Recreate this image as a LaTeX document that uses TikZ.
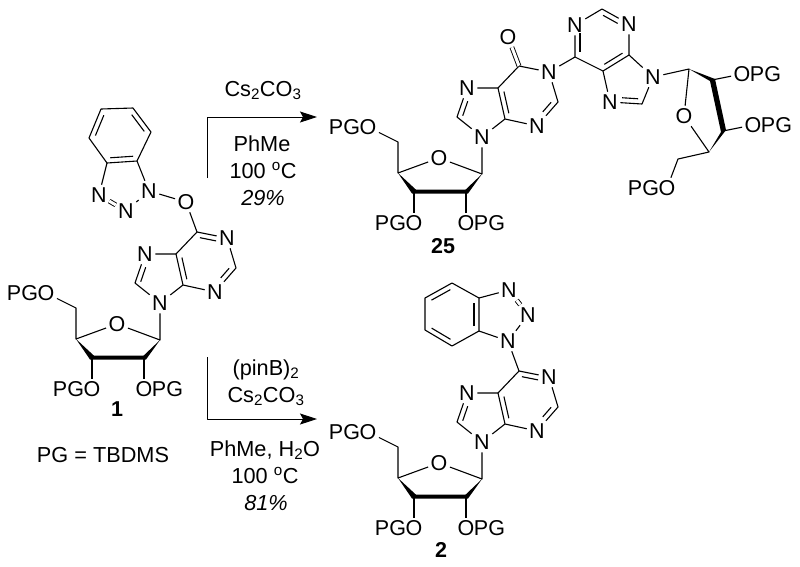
\documentclass[tikz,border=0pt]{standalone}
\usepackage{fontspec}
\setmainfont{Liberation Sans}
\usetikzlibrary{positioning,calc,arrows.meta}

\tikzset{
  atom/.style={font=\fontsize{21.5}{25}\selectfont,inner sep=2pt,text height=15.4pt,text depth=0pt},
  tail/.style={font=\fontsize{21.5}{25}\selectfont,inner sep=0pt,text height=15.4pt,text depth=0pt},
  reagent/.style={font=\fontsize{21.7}{25}\selectfont,inner sep=0pt,anchor=base},
  dblbond/.style={double,double distance=3pt,line width=.9pt},
  rxnarrow/.style={line width=.9pt,-{Stealth[length=17pt,width=11pt,inset=3pt]}}
}

\newcommand{\inbond}[4]{\draw ($(#1)!#3!(#2)!5pt!90:(#2)$) -- ($(#1)!#4!(#2)!5pt!90:(#2)$);}

\newcommand{\nucleoside}[2]{
  \begin{scope}[shift={(#2)}]
    \coordinate (#1c6) at (197,232);
    \node[atom] (#1n1) at (227,238) {N};
    \coordinate (#1c2) at (236,268);
    \node[atom] (#1n3) at (215,292) {N};
    \coordinate (#1c4) at (183,285);
    \coordinate (#1c5) at (176,254);
    \node[atom] (#1n7) at (145,254) {N};
    \coordinate (#1c8) at (135,283);
    \node[atom] (#1n9) at (160,303) {N};
    \coordinate (#1ca) at (160,340);
    \node[atom] (#1or) at (117,324) {O};
    \coordinate (#1cd) at (76,339);
    \coordinate (#1cc) at (92,357);
    \coordinate (#1cb) at (144,357);
    \coordinate (#1ce) at (76,308);
    \node[atom] (#1oe) at (46,293) {O};
    \node[tail,left=-3.5pt of #1oe] (#1pe) {PG};
    \node[atom] (#1oc) at (92,389) {O};
    \node[tail,left=-3.5pt of #1oc] (#1pc) {PG};
    \node[atom] (#1ob) at (144,389) {O};
    \node[tail,right=-3.5pt of #1ob] (#1pb) {PG};
    \draw (#1c6) -- (#1c5) -- (#1c4) -- (#1n3) -- (#1c2) -- (#1n1);
    \draw (#1c5) -- (#1n7) -- (#1c8) -- (#1n9) -- (#1c4);
    \inbond{#1c5}{#1c4}{.15}{.85}
    \inbond{#1n7}{#1c8}{.4}{.9}
    \inbond{#1n3}{#1c2}{.45}{.85}
    \draw (#1n9) -- (#1ca) -- (#1or) -- (#1cd) -- (#1ce) -- (#1oe);
    \draw (#1cc) -- (#1oc);
    \draw (#1cb) -- (#1ob);
    \fill (#1cd) -- (90,359.5) -- (146,359.5) -- (#1ca) -- (143.5,355.7) -- (94,355.7) -- cycle;
  \end{scope}
}

\begin{document}
\begin{tikzpicture}[x=1pt,y=-1pt,line width=1.1pt,line join=round]
    \useasboundingbox (0,0) rectangle (800,566);

    \nucleoside{a}{0,0}
    \nucleoside{b}{322,-166}
    \nucleoside{c}{322,139}

    \draw (ac6) -- (an1);
    \inbond{an1}{ac6}{.33}{.87}
    \coordinate (ba) at (101,109);
    \coordinate (bb) at (133,108);
    \coordinate (bc) at (151,132);
    \coordinate (bd) at (137,161);
    \coordinate (be) at (107,163);
    \coordinate (bf) at (89,138);
    \node[atom] (na) at (149,191) {N};
    \node[atom] (nb) at (126,211) {N};
    \node[atom] (nc) at (99,195) {N};
    \node[atom] (oa) at (186,202) {O};
    \draw (ba) -- (bb) -- (bc) -- (bd) -- (be) -- (bf) -- (ba);
    \inbond{ba}{bf}{.15}{.85}
    \inbond{bc}{bb}{.15}{.85}
    \inbond{be}{bd}{.12}{.88}
    \draw (bd) -- (na) -- (nb);
    \draw (be) -- (nc);
    \draw[dblbond] (nc) -- (nb);
    \draw (na) -- (oa) -- (ac6);
    \node[reagent,font=\fontsize{21.5}{25}\selectfont\bfseries] (one) at (117,416) {1};
    \node[reagent] (pgtext) at (103,462) {PG = TBDMS};

    \node[atom] (oc) at (508,37) {O};
    \draw[dblbond] (oc) -- (bc6);
    \draw (bn1) -- (bc6);
    \coordinate (dc) at (575,57);
    \node[atom] (dn) at (575,25) {N};
    \coordinate (db) at (602,9);
    \node[atom] (dm) at (629,24) {N};
    \coordinate (de) at (629,55);
    \coordinate (df) at (603,71);
    \node[atom] (dg) at (610,102) {N};
    \coordinate (dh) at (642,104);
    \node[atom] (di) at (653,77) {N};
    \coordinate (ra) at (689,69);
    \node[atom] (ro) at (684,116) {O};
    \coordinate (rd) at (709,152);
    \coordinate (rc) at (723,131);
    \coordinate (rb) at (712,80);
    \coordinate (re) at (678,159);
    \node[atom] (roe) at (667,188) {O};
    \node[tail,left=-3.5pt of roe] (rpe) {PG};
    \node[atom] (rob) at (742,74) {O};
    \node[tail,right=-3.5pt of rob] (rpb) {PG};
    \node[atom] (roc) at (753,125) {O};
    \node[tail,right=-3.5pt of roc] (rpc) {PG};
    \draw (bn1) -- (dc) -- (dn) -- (db) -- (dm) -- (de) -- (df) -- (dc);
    \draw (df) -- (dg) -- (dh) -- (di) -- (de);
    \inbond{dn}{dc}{.25}{.85}
    \inbond{dm}{db}{.33}{.87}
    \inbond{df}{de}{.15}{.85}
    \inbond{dg}{dh}{.37}{.87}
    \draw (di) -- (ra) -- (ro) -- (rd) -- (re) -- (roe);
    \draw (rb) -- (rob);
    \draw (rc) -- (roc);
    \fill (ra) -- (715,79) -- (726,130) -- (rd) -- (721,132) -- (710,81) -- cycle;
    \node[reagent,font=\fontsize{21.5}{25}\selectfont\bfseries] (two) at (443,253) {25};

    \draw (cc6) -- (cn1);
    \inbond{cn1}{cc6}{.33}{.87}
    \coordinate (ea) at (452,283);
    \coordinate (eb) at (425,298);
    \coordinate (ec) at (425,330);
    \coordinate (ed) at (452,346);
    \coordinate (ee) at (479,331);
    \coordinate (ef) at (479,298);
    \node[atom] (fa) at (509,290) {N};
    \node[atom] (fb) at (528,315) {N};
    \node[atom] (fc) at (508,341) {N};
    \draw (ea) -- (eb) -- (ec) -- (ed) -- (ee) -- (ef) -- (ea);
    \inbond{ea}{eb}{.15}{.85}
    \inbond{ec}{ed}{.15}{.85}
    \inbond{ee}{ef}{.15}{.85}
    \draw (ef) -- (fa);
    \draw[dblbond] (fa) -- (fb);
    \draw (fb) -- (fc) -- (ee);
    \draw (fc) -- (cc6);
    \node[reagent,font=\fontsize{21.5}{25}\selectfont\bfseries] (three) at (441,557) {2};

    \coordinate (tstart) at (207,178);
    \coordinate (tcorner) at (207,117);
    \coordinate (tend) at (317,117);
    \draw[rxnarrow] (tstart) -- (tcorner) -- (tend);
    \node[reagent] (ta) at (263,96) {Cs\textsubscript{2}CO\textsubscript{3}};
    \node[reagent] (tb) at (262,151) {PhMe};
    \node[reagent] (tc) at (263,178) {100 \textsuperscript{o}C};
    \node[reagent] (td) at (263,205) {\itshape 29\%};

    \coordinate (lstart) at (207,357);
    \coordinate (lcorner) at (207,419);
    \coordinate (lend) at (317,419);
    \draw[rxnarrow] (lstart) -- (lcorner) -- (lend);
    \node[reagent] (la) at (266,375) {(pinB)\textsubscript{2}};
    \node[reagent] (lb) at (266,402) {Cs\textsubscript{2}CO\textsubscript{3}};
    \node[reagent] (lc) at (265,456) {PhMe, H\textsubscript{2}O};
    \node[reagent] (ld) at (265,483) {100 \textsuperscript{o}C};
    \node[reagent] (le) at (266,510) {\itshape 81\%};
\end{tikzpicture}
\end{document}
